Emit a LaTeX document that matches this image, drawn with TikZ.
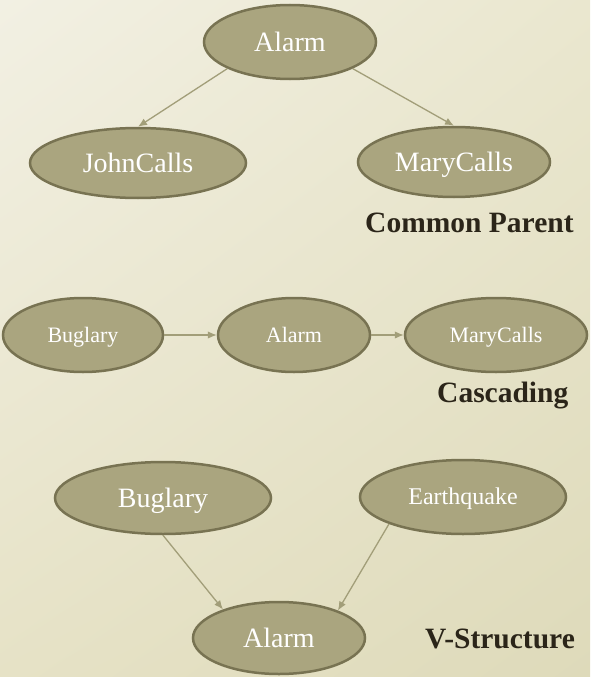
\documentclass[tikz,border=0pt]{standalone}
\usepackage{fontspec}
\setmainfont{Liberation Serif}
\usetikzlibrary{shapes.geometric,arrows.meta,shadings}
\definecolor{nodefill}{HTML}{AAA57F}
\definecolor{nodeedge}{HTML}{787352}
\definecolor{arrowcol}{HTML}{A29E79}
\definecolor{labelcol}{HTML}{2B2519}
\definecolor{bgUL}{HTML}{F2F0E3}
\definecolor{bgUR}{HTML}{EAE7CF}
\definecolor{bgLL}{HTML}{E6E2C6}
\definecolor{bgLR}{HTML}{DEDABA}
\tikzset{
  bnode/.style={ellipse, draw=nodeedge, fill=nodefill, line width=2.5pt,
    inner sep=0pt, text=white, text depth=0pt},
  bigtxt/.style={font=\fontsize{28}{30}\selectfont, text height=18.5pt},
  midtxt/.style={font=\fontsize{22}{24}\selectfont, text height=14.6pt},
  eqtxt/.style={font=\fontsize{24}{26}\selectfont, text height=15.9pt},
  conn/.style={draw=arrowcol, line width=1.3pt,
    -{Latex[length=9pt,width=7.5pt]}},
  structlabel/.style={anchor=base west, text=labelcol,
    font=\fontsize{29.5}{32}\selectfont\bfseries, inner sep=0pt}
}
\begin{document}
\begin{tikzpicture}[x=1pt,y=-1pt]
\useasboundingbox (0,0) rectangle (590,677);
\shade[upper left=bgUL, upper right=bgUR, lower left=bgLL, lower right=bgLR]
  (0,0) rectangle (590,677);

% Common parent
\node[bnode,bigtxt,minimum width=172pt,minimum height=74pt] (A1) at (290,42) {Alarm};
\node[bnode,bigtxt,minimum width=216pt,minimum height=70pt] (J) at (138,163) {JohnCalls};
\node[bnode,bigtxt,minimum width=192pt,minimum height=70pt] (M1) at (454,162) {MaryCalls};
\draw[conn] (A1.203) -- (J.north);
\draw[conn] (A1.337) -- (M1.north);
\node[structlabel] (L1) at (365,232) {Common Parent};

% Cascading
\node[bnode,midtxt,minimum width=160pt,minimum height=74pt] (B2) at (83,335) {Buglary};
\node[bnode,midtxt,minimum width=152pt,minimum height=74pt] (A2) at (294,335) {Alarm};
\node[bnode,midtxt,minimum width=182pt,minimum height=74pt] (M2) at (496,335) {MaryCalls};
\draw[conn] (B2.east) -- (A2.west);
\draw[conn] (A2.east) -- (M2.west);
\node[structlabel] (L2) at (437,402) {Cascading};

% V-structure
\node[bnode,bigtxt,minimum width=216pt,minimum height=72pt] (B3) at (163,498) {Buglary};
\node[bnode,eqtxt,minimum width=206pt,minimum height=74pt] (E3) at (463,497) {Earthquake};
\node[bnode,bigtxt,minimum width=172pt,minimum height=72pt] (A3) at (279,638) {Alarm};
\draw[conn] (B3.south) -- (A3.153);
\draw[conn] (E3.200) -- (A3.25);
\node[structlabel] (L3) at (425,648) {V-Structure};
\end{tikzpicture}
\end{document}
